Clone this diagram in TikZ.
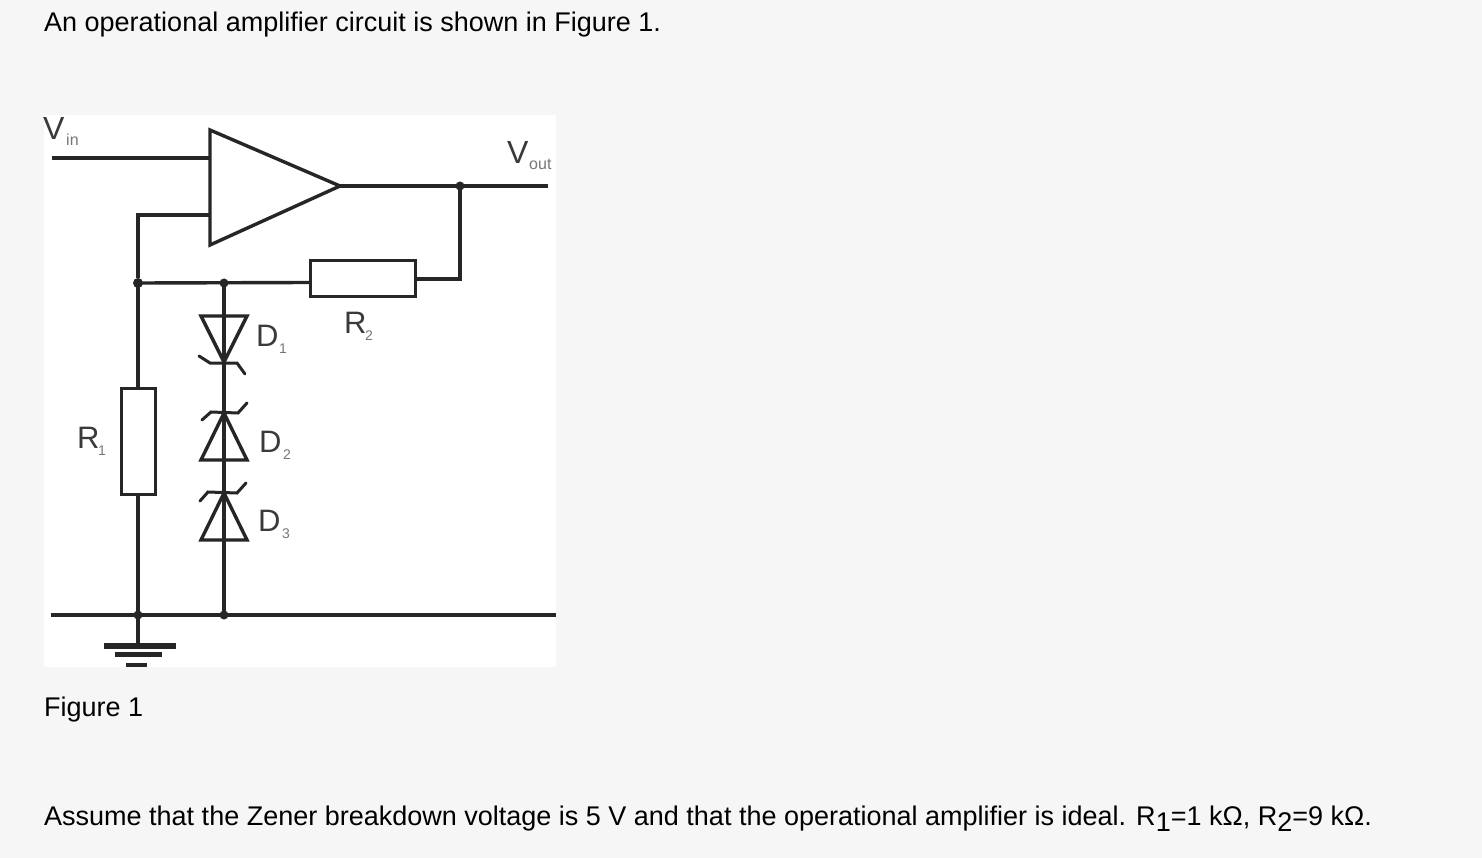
\documentclass[tikz,border=0pt]{standalone}
\usepackage{fontspec}
\setmainfont{Liberation Sans}
\definecolor{pagebg}{HTML}{F6F6F6}
\definecolor{wire}{HTML}{262626}
\definecolor{lab}{HTML}{3A3A3A}
\definecolor{sublab}{HTML}{777777}
\tikzset{
  wirestyle/.style={draw=wire,line width=3.4pt},
  thinwire/.style={draw=wire,line width=3pt},
  comp/.style={draw=wire,line width=3.4pt,fill=white,inner sep=0pt,outer sep=0pt,minimum width=0pt},
  dotnode/.style={circle,fill=wire,inner sep=0pt,minimum size=10pt},
  bodytext/.style={anchor=base west,inner sep=0pt,font=\fontsize{27}{32}\selectfont,text=black},
  cirlabel/.style={inner sep=0pt,anchor=base west,font=\fontsize{32}{34}\selectfont,text=lab},
  rlabel/.style={inner sep=0pt,anchor=base west,font=\fontsize{31}{34}\selectfont,text=lab},
  subl/.style={inner sep=0pt,anchor=base west,font=\fontsize{16}{18}\selectfont,text=sublab},
  subd/.style={inner sep=0pt,anchor=base west,font=\fontsize{14}{16}\selectfont,text=sublab},
}
\newcommand{\zenerdown}[2]{%
  \draw[wirestyle,line join=miter] (#1-23,#2) -- (#1+23,#2) -- (#1,#2+46) -- cycle;
  \draw[thinwire,line cap=round] (#1-25,#2+40) -- (#1-14,#2+47) -- (#1+13,#2+47) -- (#1+21,#2+58);}
\newcommand{\zenerupA}[2]{%
  \draw[wirestyle,line join=miter] (#1-23,#2) -- (#1+23,#2) -- (#1,#2-47) -- cycle;
  \draw[thinwire,line cap=round] (#1-22,#2-40) -- (#1-13,#2-48) -- (#1+14,#2-47) -- (#1+23,#2-57);}
\newcommand{\zenerupB}[2]{%
  \draw[wirestyle,line join=miter] (#1-23,#2) -- (#1+23,#2) -- (#1,#2-47) -- cycle;
  \draw[thinwire,line cap=round] (#1-24,#2-39) -- (#1-16,#2-48) -- (#1+13,#2-47) -- (#1+22,#2-57);}
\begin{document}
\begin{tikzpicture}[x=1pt,y=-1pt]
\useasboundingbox (0,0) rectangle (1482,858);
\fill[pagebg] (0,0) rectangle (1482,858);
\fill[white] (44,115) rectangle (556,667);

% amplifier
\coordinate (ampTL) at (210,130);
\coordinate (ampBL) at (210,245);
\node[inner sep=0pt,minimum size=0pt] (ampOut) at (340,186) {};
\coordinate (vinEnd) at (52,158);
\coordinate (ampIn) at (210,158);
\coordinate (ampFb) at (210,215);
\coordinate (fbCorner) at (138,215);
\coordinate (voutEnd) at (548,186);
\coordinate (gndL) at (51,615);
\coordinate (gndR) at (556,615);

\node[dotnode] (jFbL) at (138,283) {};
\node[dotnode,minimum size=9pt] (jD) at (224,283) {};
\node[dotnode,minimum size=9pt] (jOut) at (460,186) {};
\node[dotnode,minimum size=9pt] (jGndA) at (138,615) {};
\node[dotnode,minimum size=9pt] (jGndB) at (224,615) {};

% wires
\draw[wirestyle] (vinEnd) -- (ampIn);
\draw[wirestyle] (ampFb) -- (fbCorner) -- (jFbL);
\draw[wirestyle] (ampOut.center) -- (voutEnd);
\draw[wirestyle] (jFbL.center) -- (310,282.5);
\draw[wirestyle] (416,279) -- (460,279) -- (jOut.center);
\draw[wirestyle] (jFbL.center) -- (jGndA.center);
\draw[wirestyle] (gndL) -- (gndR);
\draw[wirestyle] (jD.center) -- (jGndB.center);
\draw[wirestyle,fill=white,line join=miter] (ampTL) -- (ampOut.center) -- (ampBL) -- cycle;

% resistors
\node[comp,minimum width=105pt,minimum height=36pt] (R2) at (363,278.5) {};
\node[comp,minimum width=34pt,minimum height=106pt] (R1) at (138.5,441.5) {};

% zeners
\zenerdown{224}{316}
\zenerupA{224}{460}
\zenerupB{224}{540}

% ground
\coordinate (gndT) at (138,645);
\draw[wirestyle] (jGndA.center) -- (gndT);
\fill[wire] (104,643) rectangle (176,649);
\fill[wire] (115,652) rectangle (162,657);
\fill[wire] (126,663) rectangle (147,667);

% circuit labels
\node[cirlabel] (tVin) at (43,140) {V};
\node[subl] (tVinS) at (66,146) {in};
\node[cirlabel] (tVout) at (507,164) {V};
\node[subl] (tVoutS) at (529,170) {out};
\node[rlabel] (tR2) at (344,334) {R};
\node[subd] (tR2s) at (365,341) {2};
\node[rlabel] (tR1) at (77,448) {R};
\node[subd] (tR1s) at (98,455) {1};
\node[rlabel] (tD1) at (256,346) {D};
\node[subd] (tD1s) at (279,353) {1};
\node[rlabel] (tD2) at (259,452) {D};
\node[subd] (tD2s) at (283,459) {2};
\node[rlabel] (tD3) at (258,531) {D};
\node[subd] (tD3s) at (282,538) {3};

% text
\node[bodytext] (t1) at (44,32) {An operational amplifier circuit is shown in Figure 1.};
\node[bodytext] (t2) at (44,716) {Figure 1};
\node[bodytext] (t3) at (44,825) {Assume that the Zener breakdown voltage is 5 V and that the operational amplifier is ideal. R\raisebox{-6pt}{1}=1 kΩ, R\raisebox{-6pt}{2}=9 kΩ.};
\end{tikzpicture}
\end{document}
